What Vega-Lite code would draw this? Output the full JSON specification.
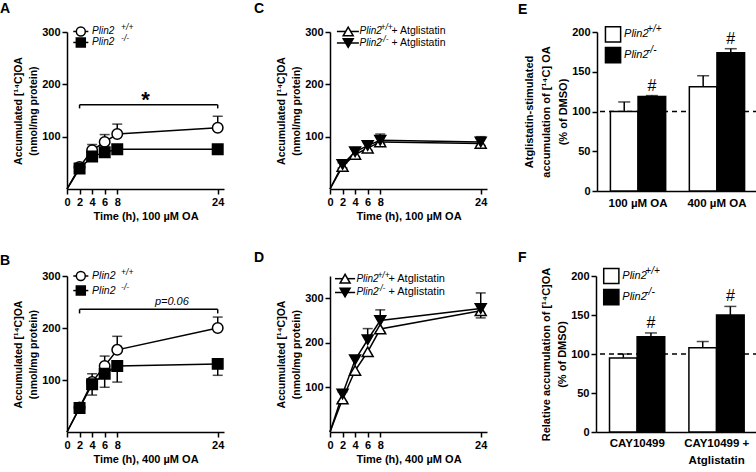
{
  "$schema": "https://vega.github.io/schema/vega-lite/v6.json",
  "padding": {"left": 0, "top": 2, "right": 0, "bottom": 0},
  "config": {
    "font": "Liberation Sans",
    "view": {"stroke": null},
    "axis": {
      "domainColor": "black", "domainWidth": 1.5, "tickColor": "black", "tickWidth": 1.5, "tickSize": 5,
      "labelColor": "black", "labelFontWeight": "bold", "labelFontSize": 11, "labelPadding": 2, "labelFont": "Liberation Sans",
      "titleColor": "black", "titleFontWeight": "bold", "titleFontSize": 10.5, "titlePadding": 3, "titleFont": "Liberation Sans",
      "grid": false, "titleLineHeight": 15, "labelOverlap": false, "labelSeparation": 0, "labelBound": false
    },
    "axisX": {"labelOverlap": false, "labelFlush": false},
    "title": {"fontSize": 14, "fontWeight": "bold", "anchor": "start", "frame": "group", "color": "black", "font": "Liberation Sans"},
    "text": {"color": "black", "font": "Liberation Sans"}
  },
  "datasets": {
    "A": [
      {"t":0,"v":0,"lo":0,"hi":0,"g":"+/+"},
      {"t":2,"v":42,"lo":42,"hi":46,"g":"+/+"},
      {"t":4,"v":74,"lo":74,"hi":85,"g":"+/+"},
      {"t":6,"v":90,"lo":90,"hi":104,"g":"+/+"},
      {"t":8,"v":105,"lo":105,"hi":124,"g":"+/+"},
      {"t":24,"v":117,"lo":117,"hi":139,"g":"+/+"},
      {"t":0,"v":0,"lo":0,"hi":0,"g":"-/-"},
      {"t":2,"v":39,"lo":35,"hi":39,"g":"-/-"},
      {"t":4,"v":62,"lo":56,"hi":62,"g":"-/-"},
      {"t":6,"v":70,"lo":64,"hi":70,"g":"-/-"},
      {"t":8,"v":76,"lo":71,"hi":76,"g":"-/-"},
      {"t":24,"v":76,"lo":72,"hi":76,"g":"-/-"}
    ],
    "B": [
      {"t":0,"v":0,"lo":0,"hi":0,"g":"+/+"},
      {"t":2,"v":47,"lo":47,"hi":50,"g":"+/+"},
      {"t":4,"v":96,"lo":96,"hi":112,"g":"+/+"},
      {"t":6,"v":127,"lo":127,"hi":146,"g":"+/+"},
      {"t":8,"v":158,"lo":158,"hi":184,"g":"+/+"},
      {"t":24,"v":200,"lo":200,"hi":221,"g":"+/+"},
      {"t":0,"v":0,"lo":0,"hi":0,"g":"-/-"},
      {"t":2,"v":46,"lo":43,"hi":46,"g":"-/-"},
      {"t":4,"v":92,"lo":71,"hi":92,"g":"-/-"},
      {"t":6,"v":112,"lo":86,"hi":112,"g":"-/-"},
      {"t":8,"v":127,"lo":96,"hi":127,"g":"-/-"},
      {"t":24,"v":131,"lo":109,"hi":131,"g":"-/-"}
    ],
    "C": [
      {"t":0,"v":0,"lo":0,"hi":0,"g":"+/+"},
      {"t":2,"v":43,"lo":40,"hi":43,"g":"+/+"},
      {"t":4,"v":66,"lo":62,"hi":66,"g":"+/+"},
      {"t":6,"v":78,"lo":74,"hi":78,"g":"+/+"},
      {"t":8,"v":90,"lo":86,"hi":90,"g":"+/+"},
      {"t":24,"v":87,"lo":83,"hi":87,"g":"+/+"},
      {"t":0,"v":0,"lo":0,"hi":0,"g":"-/-"},
      {"t":2,"v":47,"lo":47,"hi":50,"g":"-/-"},
      {"t":4,"v":71,"lo":71,"hi":76,"g":"-/-"},
      {"t":6,"v":83,"lo":83,"hi":89,"g":"-/-"},
      {"t":8,"v":93,"lo":93,"hi":105,"g":"-/-"},
      {"t":24,"v":90,"lo":90,"hi":100,"g":"-/-"}
    ],
    "D": [
      {"t":0,"v":0,"lo":0,"hi":0,"g":"+/+"},
      {"t":2,"v":74,"lo":68,"hi":74,"g":"+/+"},
      {"t":4,"v":138,"lo":130,"hi":138,"g":"+/+"},
      {"t":6,"v":180,"lo":172,"hi":180,"g":"+/+"},
      {"t":8,"v":231,"lo":225,"hi":231,"g":"+/+"},
      {"t":24,"v":272,"lo":256,"hi":272,"g":"+/+"},
      {"t":0,"v":0,"lo":0,"hi":0,"g":"-/-"},
      {"t":2,"v":85,"lo":85,"hi":90,"g":"-/-"},
      {"t":4,"v":162,"lo":162,"hi":171,"g":"-/-"},
      {"t":6,"v":207,"lo":207,"hi":232,"g":"-/-"},
      {"t":8,"v":250,"lo":250,"hi":274,"g":"-/-"},
      {"t":24,"v":277,"lo":277,"hi":312,"g":"-/-"}
    ],
    "E": [
      {"cond":"100 µM OA","g":"+/+","v":100,"hi":112},
      {"cond":"100 µM OA","g":"-/-","v":119,"hi":120},
      {"cond":"400 µM OA","g":"+/+","v":131,"hi":145},
      {"cond":"400 µM OA","g":"-/-","v":174,"hi":179}
    ],
    "F": [
      {"cond":"CAY10499","g":"+/+","v":95,"hi":100},
      {"cond":"CAY10499","g":"-/-","v":122,"hi":127},
      {"cond":"CAY10499 + Atglistatin","g":"+/+","v":108,"hi":116},
      {"cond":"CAY10499 + Atglistatin","g":"-/-","v":150,"hi":161}
    ],
    "LA": [{"g":"+/+","v":301,"sup":"+/+"},{"g":"-/-","v":280,"sup":"-/-"}],
    "LB": [{"g":"+/+","v":300,"sup":"+/+"},{"g":"-/-","v":272,"sup":"-/-"}],
    "LC": [{"g":"+/+","v":301,"sup":"+/+","suf":"+ Atglistatin"},{"g":"-/-","v":279,"sup":"-/-","suf":"   + Atglistatin"}],
    "LD": [{"g":"+/+","v":344,"sup":"+/+","suf":"+ Atglistatin"},{"g":"-/-","v":313,"sup":"-/-","suf":"   + Atglistatin"}],
    "LE": [{"cond":"100 µM OA","g":"+/+","v":197,"sup":"+/+"},{"cond":"100 µM OA","g":"-/-","v":171,"sup":"-/-"}],
    "LF": [{"cond":"CAY10499","g":"+/+","v":200,"sup":"+/+"},{"cond":"CAY10499","g":"-/-","v":173,"sup":"-/-"}]
  },
  "spacing": 29,
  "resolve": {"scale": {"x": "independent", "y": "independent", "fill": "independent", "shape": "independent"}},
  "vconcat": [
    {
      "spacing": 28,
      "resolve": {"scale": {"x": "independent", "y": "independent", "fill": "independent", "shape": "independent"}},
      "hconcat": [
        {
          "width": 157, "height": 157,
          "title": {"text": "A", "dx": -67, "offset": 7},
          "layer": [
            {"data": {"name": "A"}, "transform": [{"filter": "datum.t > 0"}],
             "mark": {"type": "rule", "color": "black", "strokeWidth": 1.5},
             "encoding": {
               "x": {"field": "t", "type": "quantitative", "scale": {"domain": [0, 25], "nice": false}, "axis": {"values": [0,2,4,6,8,24], "tickCount": 30, "title": "Time (h), 100 µM OA", "titleFontSize": 11, "labelOverlap": false, "labelFlush": false}},
               "y": {"field": "lo", "type": "quantitative", "scale": {"domain": [0, 300], "nice": false}, "axis": {"values": [100,200,300], "tickCount": 30, "title": ["Accumulated [¹⁴C]OA", "(nmol/mg protein)"]}},
               "y2": {"field": "hi"}}},
            {"data": {"name": "A"}, "transform": [{"filter": "datum.t > 0 && datum.hi > datum.v"}],
             "mark": {"type": "tick", "orient": "horizontal", "size": 10, "thickness": 1.5, "color": "black"},
             "encoding": {"x": {"field": "t", "type": "quantitative"}, "y": {"field": "hi", "type": "quantitative"}}},
            {"data": {"name": "A"}, "transform": [{"filter": "datum.t > 0 && datum.lo < datum.v"}],
             "mark": {"type": "tick", "orient": "horizontal", "size": 10, "thickness": 1.5, "color": "black"},
             "encoding": {"x": {"field": "t", "type": "quantitative"}, "y": {"field": "lo", "type": "quantitative"}}},
            {"data": {"name": "A"},
             "mark": {"type": "line", "color": "black", "strokeWidth": 1.5},
             "encoding": {"x": {"field": "t", "type": "quantitative"}, "y": {"field": "v", "type": "quantitative"}, "detail": {"field": "g"}}},
            {"data": {"name": "A"}, "transform": [{"filter": "datum.t > 0"}],
             "mark": {"type": "point", "filled": true, "stroke": "black", "strokeWidth": 1.5, "size": 110, "opacity": 1},
             "encoding": {"x": {"field": "t", "type": "quantitative"}, "y": {"field": "v", "type": "quantitative"},
               "shape": {"field": "g", "type": "nominal", "scale": {"domain": ["+/+","-/-"], "range": ["circle","square"]}, "legend": null},
               "fill": {"field": "g", "type": "nominal", "scale": {"domain": ["+/+","-/-"], "range": ["white","black"]}, "legend": null}}},
            {"data": {"values": [{"k": 1}]},
             "mark": {"type": "rule", "color": "black", "strokeWidth": 1.5},
             "encoding": {"x": {"datum": 2, "type": "quantitative"}, "x2": {"datum": 24}, "y": {"datum": 161, "type": "quantitative"}}},
            {"data": {"values": [{"e": 2}, {"e": 24}]},
             "mark": {"type": "rule", "color": "black", "strokeWidth": 1.5},
             "encoding": {"x": {"field": "e", "type": "quantitative"}, "y": {"datum": 161, "type": "quantitative"}, "y2": {"datum": 154}}},
            {"data": {"values": [{"label": "*"}]},
             "mark": {"type": "text", "fontSize": 22, "fontWeight": "bold", "baseline": "alphabetic", "dy": 2},
             "encoding": {"x": {"datum": 12.5, "type": "quantitative"}, "y": {"datum": 161, "type": "quantitative"}, "text": {"field": "label"}}},
            {"data": {"name": "LA"},
             "mark": {"type": "rule", "color": "black", "strokeWidth": 1.5},
             "encoding": {"x": {"datum": 1.0, "type": "quantitative"}, "x2": {"datum": 3.4}, "y": {"field": "v", "type": "quantitative"}}},
            {"data": {"name": "LA"},
             "mark": {"type": "point", "filled": true, "stroke": "black", "strokeWidth": 1.5, "size": 80, "opacity": 1},
             "encoding": {"x": {"datum": 2.2, "type": "quantitative"}, "y": {"field": "v", "type": "quantitative"},
               "shape": {"field": "g", "type": "nominal", "legend": null}, "fill": {"field": "g", "type": "nominal", "legend": null}}},
            {"data": {"name": "LA"},
             "mark": {"type": "text", "align": "left", "baseline": "middle", "fontStyle": "italic", "fontSize": 10},
             "encoding": {"x": {"datum": 4.0, "type": "quantitative"}, "y": {"field": "v", "type": "quantitative"}, "text": {"value": "Plin2"}}},
            {"data": {"name": "LA"},
             "mark": {"type": "text", "align": "left", "baseline": "middle", "fontStyle": "italic", "fontSize": 8.5, "dx": 29, "dy": -4},
             "encoding": {"x": {"datum": 4.0, "type": "quantitative"}, "y": {"field": "v", "type": "quantitative"}, "text": {"field": "sup"}}}
          ]
        },
        {
          "width": 157, "height": 157,
          "title": {"text": "C", "dx": -76, "offset": 7},
          "layer": [
            {"data": {"name": "C"}, "transform": [{"filter": "datum.t > 0"}],
             "mark": {"type": "rule", "color": "black", "strokeWidth": 1.5},
             "encoding": {
               "x": {"field": "t", "type": "quantitative", "scale": {"domain": [0, 25], "nice": false}, "axis": {"values": [0,2,4,6,8,24], "tickCount": 30, "title": "Time (h), 100 µM OA", "titleFontSize": 11, "labelOverlap": false, "labelFlush": false}},
               "y": {"field": "lo", "type": "quantitative", "scale": {"domain": [0, 300], "nice": false}, "axis": {"values": [100,200,300], "tickCount": 30, "title": ["Accumulated [¹⁴C]OA", "(nmol/mg protein)"]}},
               "y2": {"field": "hi"}}},
            {"data": {"name": "C"}, "transform": [{"filter": "datum.t > 0 && datum.hi > datum.v"}],
             "mark": {"type": "tick", "orient": "horizontal", "size": 10, "thickness": 1.5, "color": "black"},
             "encoding": {"x": {"field": "t", "type": "quantitative"}, "y": {"field": "hi", "type": "quantitative"}}},
            {"data": {"name": "C"}, "transform": [{"filter": "datum.t > 0 && datum.lo < datum.v"}],
             "mark": {"type": "tick", "orient": "horizontal", "size": 10, "thickness": 1.5, "color": "black"},
             "encoding": {"x": {"field": "t", "type": "quantitative"}, "y": {"field": "lo", "type": "quantitative"}}},
            {"data": {"name": "C"},
             "mark": {"type": "line", "color": "black", "strokeWidth": 1.5},
             "encoding": {"x": {"field": "t", "type": "quantitative"}, "y": {"field": "v", "type": "quantitative"}, "detail": {"field": "g"}}},
            {"data": {"name": "C"}, "transform": [{"filter": "datum.t > 0"}],
             "mark": {"type": "point", "filled": true, "stroke": "black", "strokeWidth": 1.5, "size": 120, "opacity": 1},
             "encoding": {"x": {"field": "t", "type": "quantitative"}, "y": {"field": "v", "type": "quantitative"},
               "shape": {"field": "g", "type": "nominal", "scale": {"domain": ["+/+","-/-"], "range": ["triangle-up","triangle-down"]}, "legend": null},
               "fill": {"field": "g", "type": "nominal", "scale": {"domain": ["+/+","-/-"], "range": ["white","black"]}, "legend": null}}},
            {"data": {"name": "LC"},
             "mark": {"type": "rule", "color": "black", "strokeWidth": 1.5},
             "encoding": {"x": {"datum": 1.1, "type": "quantitative"}, "x2": {"datum": 4.6}, "y": {"field": "v", "type": "quantitative"}}},
            {"data": {"name": "LC"},
             "mark": {"type": "point", "filled": true, "stroke": "black", "strokeWidth": 1.5, "size": 100, "opacity": 1},
             "encoding": {"x": {"datum": 2.9, "type": "quantitative"}, "y": {"field": "v", "type": "quantitative"},
               "shape": {"field": "g", "type": "nominal", "legend": null}, "fill": {"field": "g", "type": "nominal", "legend": null}}},
            {"data": {"name": "LC"},
             "mark": {"type": "text", "align": "left", "baseline": "middle", "fontStyle": "italic", "fontSize": 10},
             "encoding": {"x": {"datum": 4.7, "type": "quantitative"}, "y": {"field": "v", "type": "quantitative"}, "text": {"value": "Plin2"}}},
            {"data": {"name": "LC"},
             "mark": {"type": "text", "align": "left", "baseline": "middle", "fontStyle": "italic", "fontSize": 8.5, "dx": 21, "dy": -4},
             "encoding": {"x": {"datum": 4.7, "type": "quantitative"}, "y": {"field": "v", "type": "quantitative"}, "text": {"field": "sup"}}},
            {"data": {"name": "LC"},
             "mark": {"type": "text", "align": "left", "baseline": "middle", "fontSize": 10.5, "dx": 32},
             "encoding": {"x": {"datum": 4.7, "type": "quantitative"}, "y": {"field": "v", "type": "quantitative"}, "text": {"field": "suf"}}}
          ]
        },
        {
          "width": 161, "height": 159,
          "title": {"text": "E", "dx": -79, "offset": 7},
          "layer": [
            {"data": {"values": [{"k": 1}]},
             "mark": {"type": "rule", "color": "black", "strokeWidth": 1.5, "strokeDash": [5, 4]},
             "encoding": {"y": {"datum": 100, "type": "quantitative"}}},
            {"data": {"name": "E"},
             "mark": {"type": "bar", "stroke": "black", "strokeWidth": 1.5},
             "encoding": {
               "x": {"field": "cond", "type": "nominal", "sort": null, "scale": {"paddingInner": 0.3, "paddingOuter": 0.17}, "axis": {"title": null, "ticks": false, "labelAngle": 0, "labelPadding": 6, "labelFontSize": 11.5}},
               "xOffset": {"field": "g", "type": "nominal", "scale": {"domain": ["+/+","-/-"], "paddingInner": 0, "paddingOuter": 0}},
               "y": {"field": "v", "type": "quantitative", "scale": {"domain": [0, 200], "nice": false}, "axis": {"values": [0,50,100,150,200], "tickCount": 30, "title": ["Atglistatin-stimulated", "accumulation of [¹⁴C] OA", "(% of DMSO)"], "titleLineHeight": 17, "titleFontSize": 11}},
               "fill": {"field": "g", "type": "nominal", "scale": {"domain": ["+/+","-/-"], "range": ["white","black"]}, "legend": null}}},
            {"data": {"name": "E"},
             "mark": {"type": "rule", "color": "black", "strokeWidth": 1.5},
             "encoding": {"x": {"field": "cond", "type": "nominal", "sort": null}, "xOffset": {"field": "g", "type": "nominal"}, "y": {"field": "v", "type": "quantitative"}, "y2": {"field": "hi"}}},
            {"data": {"name": "E"},
             "mark": {"type": "tick", "orient": "horizontal", "size": 12, "thickness": 1.5, "color": "black"},
             "encoding": {"x": {"field": "cond", "type": "nominal", "sort": null}, "xOffset": {"field": "g", "type": "nominal"}, "y": {"field": "hi", "type": "quantitative"}}},
            {"data": {"name": "E"}, "transform": [{"filter": "datum.g == '-/-'"}],
             "mark": {"type": "text", "fontSize": 16, "baseline": "bottom", "dy": -2},
             "encoding": {"x": {"field": "cond", "type": "nominal", "sort": null}, "xOffset": {"field": "g", "type": "nominal"}, "y": {"field": "hi", "type": "quantitative"}, "text": {"value": "#"}}},
            {"data": {"name": "LE"},
             "mark": {"type": "point", "shape": "square", "filled": true, "stroke": "black", "strokeWidth": 1.5, "size": 230, "opacity": 1, "xOffset": -25},
             "encoding": {"x": {"field": "cond", "type": "nominal", "sort": null}, "y": {"field": "v", "type": "quantitative"}, "fill": {"field": "g", "type": "nominal", "legend": null}}},
            {"data": {"name": "LE"},
             "mark": {"type": "text", "align": "left", "baseline": "middle", "fontStyle": "italic", "fontSize": 11, "dx": -14},
             "encoding": {"x": {"field": "cond", "type": "nominal", "sort": null}, "y": {"field": "v", "type": "quantitative"}, "text": {"value": "Plin2"}}},
            {"data": {"name": "LE"},
             "mark": {"type": "text", "align": "left", "baseline": "middle", "fontStyle": "italic", "fontSize": 10, "dx": 9, "dy": -5},
             "encoding": {"x": {"field": "cond", "type": "nominal", "sort": null}, "y": {"field": "v", "type": "quantitative"}, "text": {"field": "sup"}}}
          ]
        }
      ]
    },
    {
      "spacing": 28,
      "resolve": {"scale": {"x": "independent", "y": "independent", "fill": "independent", "shape": "independent"}},
      "hconcat": [
        {
          "width": 157, "height": 156,
          "title": {"text": "B", "dx": -67, "offset": 0},
          "layer": [
            {"data": {"name": "B"}, "transform": [{"filter": "datum.t > 0"}],
             "mark": {"type": "rule", "color": "black", "strokeWidth": 1.5},
             "encoding": {
               "x": {"field": "t", "type": "quantitative", "scale": {"domain": [0, 25], "nice": false}, "axis": {"values": [0,2,4,6,8,24], "tickCount": 30, "title": "Time (h), 400 µM OA", "titleFontSize": 11, "labelOverlap": false, "labelFlush": false}},
               "y": {"field": "lo", "type": "quantitative", "scale": {"domain": [0, 300], "nice": false}, "axis": {"values": [100,200,300], "tickCount": 30, "title": ["Accumulated [¹⁴C]OA", "(nmol/mg protein)"]}},
               "y2": {"field": "hi"}}},
            {"data": {"name": "B"}, "transform": [{"filter": "datum.t > 0 && datum.hi > datum.v"}],
             "mark": {"type": "tick", "orient": "horizontal", "size": 10, "thickness": 1.5, "color": "black"},
             "encoding": {"x": {"field": "t", "type": "quantitative"}, "y": {"field": "hi", "type": "quantitative"}}},
            {"data": {"name": "B"}, "transform": [{"filter": "datum.t > 0 && datum.lo < datum.v"}],
             "mark": {"type": "tick", "orient": "horizontal", "size": 10, "thickness": 1.5, "color": "black"},
             "encoding": {"x": {"field": "t", "type": "quantitative"}, "y": {"field": "lo", "type": "quantitative"}}},
            {"data": {"name": "B"},
             "mark": {"type": "line", "color": "black", "strokeWidth": 1.5},
             "encoding": {"x": {"field": "t", "type": "quantitative"}, "y": {"field": "v", "type": "quantitative"}, "detail": {"field": "g"}}},
            {"data": {"name": "B"}, "transform": [{"filter": "datum.t > 0"}],
             "mark": {"type": "point", "filled": true, "stroke": "black", "strokeWidth": 1.5, "size": 110, "opacity": 1},
             "encoding": {"x": {"field": "t", "type": "quantitative"}, "y": {"field": "v", "type": "quantitative"},
               "shape": {"field": "g", "type": "nominal", "scale": {"domain": ["+/+","-/-"], "range": ["circle","square"]}, "legend": null},
               "fill": {"field": "g", "type": "nominal", "scale": {"domain": ["+/+","-/-"], "range": ["white","black"]}, "legend": null}}},
            {"data": {"values": [{"k": 1}]},
             "mark": {"type": "rule", "color": "black", "strokeWidth": 1.5},
             "encoding": {"x": {"datum": 2, "type": "quantitative"}, "x2": {"datum": 24}, "y": {"datum": 236, "type": "quantitative"}}},
            {"data": {"values": [{"e": 2}, {"e": 24}]},
             "mark": {"type": "rule", "color": "black", "strokeWidth": 1.5},
             "encoding": {"x": {"field": "e", "type": "quantitative"}, "y": {"datum": 236, "type": "quantitative"}, "y2": {"datum": 228}}},
            {"data": {"values": [{"label": "p=0.06"}]},
             "mark": {"type": "text", "fontSize": 11, "fontStyle": "italic", "baseline": "bottom", "dy": -2},
             "encoding": {"x": {"datum": 16.7, "type": "quantitative"}, "y": {"datum": 236, "type": "quantitative"}, "text": {"field": "label"}}},
            {"data": {"name": "LB"},
             "mark": {"type": "rule", "color": "black", "strokeWidth": 1.5},
             "encoding": {"x": {"datum": 1.0, "type": "quantitative"}, "x2": {"datum": 3.4}, "y": {"field": "v", "type": "quantitative"}}},
            {"data": {"name": "LB"},
             "mark": {"type": "point", "filled": true, "stroke": "black", "strokeWidth": 1.5, "size": 80, "opacity": 1},
             "encoding": {"x": {"datum": 2.2, "type": "quantitative"}, "y": {"field": "v", "type": "quantitative"},
               "shape": {"field": "g", "type": "nominal", "legend": null}, "fill": {"field": "g", "type": "nominal", "legend": null}}},
            {"data": {"name": "LB"},
             "mark": {"type": "text", "align": "left", "baseline": "middle", "fontStyle": "italic", "fontSize": 10.5},
             "encoding": {"x": {"datum": 4.0, "type": "quantitative"}, "y": {"field": "v", "type": "quantitative"}, "text": {"value": "Plin2"}}},
            {"data": {"name": "LB"},
             "mark": {"type": "text", "align": "left", "baseline": "middle", "fontStyle": "italic", "fontSize": 8.5, "dx": 29, "dy": -4},
             "encoding": {"x": {"datum": 4.0, "type": "quantitative"}, "y": {"field": "v", "type": "quantitative"}, "text": {"field": "sup"}}}
          ]
        },
        {
          "width": 157, "height": 156,
          "title": {"text": "D", "dx": -76, "offset": 6},
          "layer": [
            {"data": {"name": "D"}, "transform": [{"filter": "datum.t > 0"}],
             "mark": {"type": "rule", "color": "black", "strokeWidth": 1.5},
             "encoding": {
               "x": {"field": "t", "type": "quantitative", "scale": {"domain": [0, 25], "nice": false}, "axis": {"values": [0,2,4,6,8,24], "tickCount": 30, "title": "Time (h), 400 µM OA", "titleFontSize": 11, "labelOverlap": false, "labelFlush": false}},
               "y": {"field": "lo", "type": "quantitative", "scale": {"domain": [0, 350], "nice": false}, "axis": {"values": [100,200,300], "tickCount": 30, "title": ["Accumulated [¹⁴C]OA", "(nmol/mg protein)"]}},
               "y2": {"field": "hi"}}},
            {"data": {"name": "D"}, "transform": [{"filter": "datum.t > 0 && datum.hi > datum.v"}],
             "mark": {"type": "tick", "orient": "horizontal", "size": 10, "thickness": 1.5, "color": "black"},
             "encoding": {"x": {"field": "t", "type": "quantitative"}, "y": {"field": "hi", "type": "quantitative"}}},
            {"data": {"name": "D"}, "transform": [{"filter": "datum.t > 0 && datum.lo < datum.v"}],
             "mark": {"type": "tick", "orient": "horizontal", "size": 10, "thickness": 1.5, "color": "black"},
             "encoding": {"x": {"field": "t", "type": "quantitative"}, "y": {"field": "lo", "type": "quantitative"}}},
            {"data": {"name": "D"},
             "mark": {"type": "line", "color": "black", "strokeWidth": 1.5},
             "encoding": {"x": {"field": "t", "type": "quantitative"}, "y": {"field": "v", "type": "quantitative"}, "detail": {"field": "g"}}},
            {"data": {"name": "D"}, "transform": [{"filter": "datum.t > 0"}],
             "mark": {"type": "point", "filled": true, "stroke": "black", "strokeWidth": 1.5, "size": 120, "opacity": 1},
             "encoding": {"x": {"field": "t", "type": "quantitative"}, "y": {"field": "v", "type": "quantitative"},
               "shape": {"field": "g", "type": "nominal", "scale": {"domain": ["+/+","-/-"], "range": ["triangle-up","triangle-down"]}, "legend": null},
               "fill": {"field": "g", "type": "nominal", "scale": {"domain": ["+/+","-/-"], "range": ["white","black"]}, "legend": null}}},
            {"data": {"name": "LD"},
             "mark": {"type": "rule", "color": "black", "strokeWidth": 1.5},
             "encoding": {"x": {"datum": 0.8, "type": "quantitative"}, "x2": {"datum": 4.0}, "y": {"field": "v", "type": "quantitative"}}},
            {"data": {"name": "LD"},
             "mark": {"type": "point", "filled": true, "stroke": "black", "strokeWidth": 1.5, "size": 100, "opacity": 1},
             "encoding": {"x": {"datum": 2.4, "type": "quantitative"}, "y": {"field": "v", "type": "quantitative"},
               "shape": {"field": "g", "type": "nominal", "legend": null}, "fill": {"field": "g", "type": "nominal", "legend": null}}},
            {"data": {"name": "LD"},
             "mark": {"type": "text", "align": "left", "baseline": "middle", "fontStyle": "italic", "fontSize": 10},
             "encoding": {"x": {"datum": 4.2, "type": "quantitative"}, "y": {"field": "v", "type": "quantitative"}, "text": {"value": "Plin2"}}},
            {"data": {"name": "LD"},
             "mark": {"type": "text", "align": "left", "baseline": "middle", "fontStyle": "italic", "fontSize": 8.5, "dx": 21, "dy": -4},
             "encoding": {"x": {"datum": 4.2, "type": "quantitative"}, "y": {"field": "v", "type": "quantitative"}, "text": {"field": "sup"}}},
            {"data": {"name": "LD"},
             "mark": {"type": "text", "align": "left", "baseline": "middle", "fontSize": 11, "dx": 32},
             "encoding": {"x": {"datum": 4.2, "type": "quantitative"}, "y": {"field": "v", "type": "quantitative"}, "text": {"field": "suf"}}}
          ]
        },
        {
          "width": 162, "height": 156,
          "title": {"text": "F", "dx": -78, "offset": 0},
          "layer": [
            {"data": {"values": [{"k": 1}]},
             "mark": {"type": "rule", "color": "black", "strokeWidth": 1.5, "strokeDash": [5, 4]},
             "encoding": {"y": {"datum": 100, "type": "quantitative"}}},
            {"data": {"name": "F"},
             "mark": {"type": "bar", "stroke": "black", "strokeWidth": 1.5},
             "encoding": {
               "x": {"field": "cond", "type": "nominal", "sort": null, "scale": {"paddingInner": 0.3, "paddingOuter": 0.17}, "axis": {"title": null, "ticks": false, "labelAngle": 0, "labelPadding": 5, "labelFontSize": 11.5, "labelLineHeight": 17, "labelExpr": "datum.value == 'CAY10499 + Atglistatin' ? ['CAY10499 +', 'Atglistatin'] : datum.value"}},
               "xOffset": {"field": "g", "type": "nominal", "scale": {"domain": ["+/+","-/-"], "paddingInner": 0, "paddingOuter": 0}},
               "y": {"field": "v", "type": "quantitative", "scale": {"domain": [0, 200], "nice": false}, "axis": {"values": [0,50,100,150,200], "tickCount": 30, "title": ["Relative accumulation of [¹⁴C]OA", "(% of DMSO)"], "titleLineHeight": 16, "titleFontSize": 11}},
               "fill": {"field": "g", "type": "nominal", "scale": {"domain": ["+/+","-/-"], "range": ["white","black"]}, "legend": null}}},
            {"data": {"name": "F"},
             "mark": {"type": "rule", "color": "black", "strokeWidth": 1.5},
             "encoding": {"x": {"field": "cond", "type": "nominal", "sort": null}, "xOffset": {"field": "g", "type": "nominal"}, "y": {"field": "v", "type": "quantitative"}, "y2": {"field": "hi"}}},
            {"data": {"name": "F"},
             "mark": {"type": "tick", "orient": "horizontal", "size": 12, "thickness": 1.5, "color": "black"},
             "encoding": {"x": {"field": "cond", "type": "nominal", "sort": null}, "xOffset": {"field": "g", "type": "nominal"}, "y": {"field": "hi", "type": "quantitative"}}},
            {"data": {"name": "F"}, "transform": [{"filter": "datum.g == '-/-'"}],
             "mark": {"type": "text", "fontSize": 16, "baseline": "bottom", "dy": -2},
             "encoding": {"x": {"field": "cond", "type": "nominal", "sort": null}, "xOffset": {"field": "g", "type": "nominal"}, "y": {"field": "hi", "type": "quantitative"}, "text": {"value": "#"}}},
            {"data": {"name": "LF"},
             "mark": {"type": "point", "shape": "square", "filled": true, "stroke": "black", "strokeWidth": 1.5, "size": 230, "opacity": 1, "xOffset": -26},
             "encoding": {"x": {"field": "cond", "type": "nominal", "sort": null}, "y": {"field": "v", "type": "quantitative"}, "fill": {"field": "g", "type": "nominal", "legend": null}}},
            {"data": {"name": "LF"},
             "mark": {"type": "text", "align": "left", "baseline": "middle", "fontStyle": "italic", "fontSize": 11, "dx": -15},
             "encoding": {"x": {"field": "cond", "type": "nominal", "sort": null}, "y": {"field": "v", "type": "quantitative"}, "text": {"value": "Plin2"}}},
            {"data": {"name": "LF"},
             "mark": {"type": "text", "align": "left", "baseline": "middle", "fontStyle": "italic", "fontSize": 10, "dx": 8, "dy": -5},
             "encoding": {"x": {"field": "cond", "type": "nominal", "sort": null}, "y": {"field": "v", "type": "quantitative"}, "text": {"field": "sup"}}}
          ]
        }
      ]
    }
  ]
}
